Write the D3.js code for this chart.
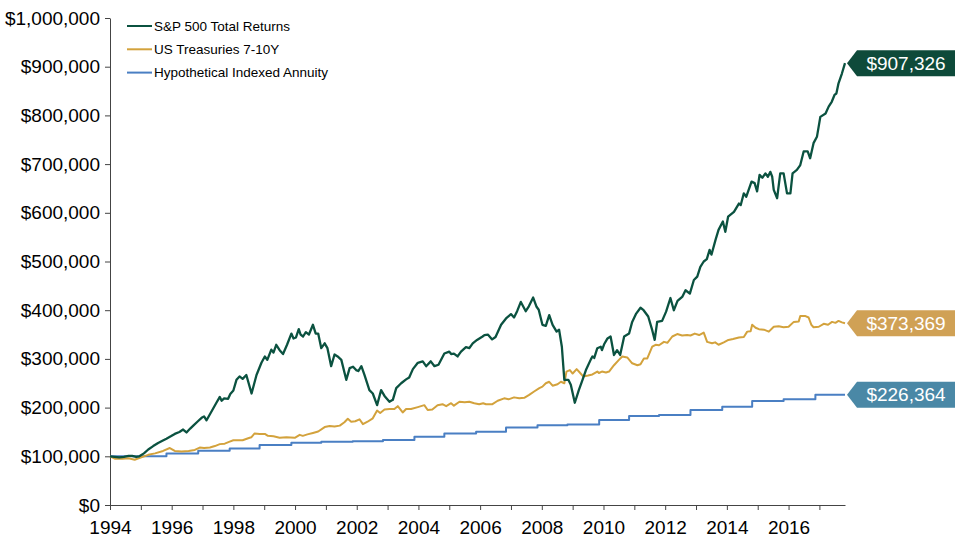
<!DOCTYPE html>
<html>
<head>
<meta charset="utf-8">
<script src="https://cdn.jsdelivr.net/npm/d3@7"></script>
<style>
  body { margin: 0; background: #fff; }
  svg { font-family: "Liberation Sans", Arial, sans-serif; }
</style>
</head>
<body>
<svg id="chart" width="960" height="560"></svg>
<script>
// values in thousands of dollars, [year, value]
var sp500 = [[1994.0,100],[1994.15,99],[1994.3,98],[1994.45,99],[1994.6,101],[1994.72,101],[1994.85,99],[1994.95,100],
  [1995.1,106],[1995.24,114],[1995.4,121],[1995.56,127.5],[1995.7,132],[1995.83,136],[1995.97,141],[1996.1,146],[1996.25,150],
  [1996.37,155],[1996.48,149],[1996.6,157],[1996.7,163],[1996.85,172],[1996.97,179],[1997.05,182],[1997.13,174],[1997.29,192],
  [1997.45,210],[1997.56,222],[1997.62,214],[1997.7,219],[1997.83,218],[1997.9,228],[1998.0,235],[1998.1,257],[1998.2,264],
  [1998.3,259],[1998.42,267],[1998.59,229],[1998.75,267],[1998.91,292],[1999.02,305],[1999.1,298],[1999.23,319],[1999.3,313],
  [1999.39,329],[1999.5,318],[1999.61,310],[1999.74,329],[1999.88,352],[1999.95,342],[2000.03,344],[2000.12,361],[2000.18,350],
  [2000.26,346],[2000.35,355],[2000.45,350],[2000.58,370],[2000.67,352],[2000.75,352],[2000.85,322],[2000.96,332],[2001.05,322],
  [2001.17,285],[2001.28,309],[2001.38,305],[2001.5,298],[2001.66,257],[2001.77,281],[2001.88,284],[2001.98,277],[2002.05,275],
  [2002.15,285],[2002.25,267],[2002.41,236],[2002.52,229],[2002.66,205],[2002.79,236],[2002.9,224],[2003.06,212],[2003.17,216],
  [2003.28,240],[2003.44,250],[2003.6,258],[2003.7,262],[2003.82,279],[2003.98,292],[2004.14,295],[2004.25,285],[2004.4,295],
  [2004.52,285],[2004.65,288],[2004.84,311],[2005.0,315],[2005.06,310],[2005.15,311],[2005.27,305],[2005.38,315],[2005.54,324],
  [2005.65,322],[2005.76,332],[2005.9,339],[2006.08,346],[2006.14,349],[2006.25,350],[2006.39,340],[2006.5,345],[2006.68,370],
  [2006.84,383],[2007.0,392],[2007.1,385],[2007.2,398],[2007.32,417],[2007.48,398],[2007.58,408],[2007.72,426],[2007.83,407],
  [2007.9,401],[2008.02,370],[2008.13,368],[2008.24,390],[2008.35,370],[2008.48,356],[2008.56,360],[2008.65,325],[2008.73,257],
  [2008.86,257],[2008.94,247],[2009.07,210],[2009.2,236],[2009.32,257],[2009.43,277],[2009.59,299],[2009.64,305],[2009.7,302],
  [2009.8,322],[2009.91,325],[2009.95,318],[2010.02,330],[2010.13,342],[2010.23,346],[2010.34,308],[2010.44,318],[2010.54,308],
  [2010.67,346],[2010.83,352],[2010.93,376],[2011.06,393],[2011.2,405],[2011.3,400],[2011.45,387],[2011.58,359],[2011.66,339],
  [2011.74,376],[2011.9,378],[2012.03,397],[2012.17,425],[2012.28,400],[2012.4,419],[2012.56,428],[2012.66,441],[2012.8,434],
  [2012.93,462],[2013.04,469],[2013.14,489],[2013.25,500],[2013.35,505],[2013.44,524],[2013.5,514],[2013.63,544],[2013.73,565],
  [2013.87,582],[2013.95,561],[2014.04,592],[2014.23,602],[2014.39,619],[2014.45,616],[2014.55,640],[2014.63,633],[2014.8,664],
  [2014.9,661],[2014.98,644],[2015.06,678],[2015.15,672],[2015.25,681],[2015.33,674],[2015.41,684],[2015.47,674],[2015.52,647],
  [2015.63,630],[2015.73,681],[2015.84,681],[2015.95,640],[2016.06,640],[2016.13,681],[2016.27,688],[2016.38,698],[2016.49,726],
  [2016.62,726],[2016.7,712],[2016.81,743],[2016.92,756],[2017.03,797],[2017.2,804],[2017.3,818],[2017.4,828],[2017.49,842],
  [2017.55,845],[2017.62,866],[2017.73,886],[2017.83,907.326]];

var treasuries = [[1994.0,100],[1994.17,95],[1994.4,95],[1994.6,96],[1994.8,93],[1994.97,97],[1995.24,103],[1995.46,106],
  [1995.72,111],[1995.94,117],[1996.1,111],[1996.32,110],[1996.55,111],[1996.75,113],[1996.91,118],[1997.05,117],[1997.24,118],
  [1997.4,121],[1997.56,125],[1997.72,126],[1997.88,130],[1998.0,133],[1998.1,133],[1998.3,133],[1998.48,137],[1998.58,139],
  [1998.69,147],[1998.85,146],[1999.02,146],[1999.12,142],[1999.3,141],[1999.5,138],[1999.72,139],[1999.99,138],[2000.15,144],
  [2000.25,142],[2000.4,145],[2000.58,148],[2000.75,151],[2000.96,160],[2001.12,162],[2001.28,161],[2001.45,163],[2001.6,170],
  [2001.71,177],[2001.82,171],[2001.95,172],[2002.09,176],[2002.2,166],[2002.35,171],[2002.52,178],[2002.66,194],[2002.76,189],
  [2002.9,196],[2003.06,197],[2003.22,197],[2003.33,203],[2003.49,190],[2003.6,197],[2003.76,197],[2003.98,201],[2004.19,205],
  [2004.3,195],[2004.45,196],[2004.62,205],[2004.78,207],[2004.9,203],[2005.06,209],[2005.15,204],[2005.33,212],[2005.5,211],
  [2005.65,212],[2005.81,209],[2005.97,207],[2006.1,209],[2006.19,207],[2006.4,207],[2006.57,214],[2006.78,219],[2006.92,217],
  [2007.1,221],[2007.27,219],[2007.43,220],[2007.59,226],[2007.75,233],[2007.92,240],[2008.02,243],[2008.13,250],[2008.24,253],
  [2008.35,245],[2008.51,248],[2008.62,253],[2008.73,250],[2008.8,274],[2008.91,277],[2009.0,270],[2009.13,279],[2009.23,272],
  [2009.34,264],[2009.5,266],[2009.64,268],[2009.8,274],[2009.85,271],[2009.95,274],[2010.08,272],[2010.18,274],[2010.34,287],
  [2010.5,298],[2010.61,305],[2010.77,303],[2010.93,291],[2011.1,287],[2011.2,289],[2011.31,301],[2011.42,301],[2011.58,325],
  [2011.69,329],[2011.8,328],[2011.96,335],[2012.07,333],[2012.23,346],[2012.39,351],[2012.55,348],[2012.71,349],[2012.82,348],
  [2012.96,352],[2013.1,349],[2013.25,354],[2013.36,335],[2013.52,332],[2013.62,334],[2013.73,329],[2013.9,334],[2014.05,339],
  [2014.2,341],[2014.39,344],[2014.55,345],[2014.66,356],[2014.77,357],[2014.82,370],[2014.93,364],[2015.04,361],[2015.2,360],
  [2015.36,356],[2015.52,366],[2015.68,367],[2015.84,365],[2016.0,366],[2016.17,376],[2016.33,377],[2016.38,388],[2016.55,388],
  [2016.65,385],[2016.74,370],[2016.81,365],[2016.98,366],[2017.14,372],[2017.28,370],[2017.41,376],[2017.52,374],[2017.62,378],
  [2017.73,375],[2017.83,373.369]];

// annual crediting steps
var annuity = [[1994.0,100],[1995.83,106],[1996.86,111.5],[1997.88,116],[1998.85,123],[1999.88,128],[2000.85,130],
  [2001.87,131],[2002.85,133.5],[2003.87,140],[2004.84,147],[2005.87,150.5],[2006.84,159],[2007.86,164],[2008.83,165.5],
  [2009.86,174.5],[2010.83,183],[2011.8,185],[2012.82,195],[2013.85,202],[2014.82,213.5],[2015.84,217],[2016.87,226.364],
  [2017.83,226.364]];

var seriesNames = ["S&P 500 Total Returns", "US Treasuries 7-10Y", "Hypothetical Indexed Annuity"];
var lineColors = ["#0b5240", "#d3a23c", "#4a7fc3"];
var calloutColors = ["#0e4a3a", "#d0a155", "#4a88a6"];
var xTicks = d3.range(1994, 2018);
var yTicks = d3.range(0, 1001, 100);

var svg = d3.select("#chart");
var margin = { top: 18, left: 110, bottom: 55, right: 115 };
var width = 960 - margin.left - margin.right;
var height = 560 - margin.top - margin.bottom;

var x = d3.scaleLinear().domain([1994, 2017.83]).range([0, width]);
var y = d3.scaleLinear().domain([0, 1000]).range([height, 0]);

var g = svg.append("g").attr("transform", `translate(${margin.left},${margin.top})`);

var fmt = d3.format("$,.0f");

var yAxis = g.append("g")
  .call(d3.axisLeft(y).tickValues(yTicks).tickSize(5).tickPadding(5).tickSizeOuter(0)
    .tickFormat(function (d) { return fmt(d * 1000); }));

var xAxis = g.append("g")
  .attr("transform", `translate(0,${height})`)
  .call(d3.axisBottom(x).tickValues(xTicks).tickSize(5).tickPadding(11).tickSizeOuter(0)
    .tickFormat(function (d) { return d % 2 === 0 ? d : ""; }));

[yAxis, xAxis].forEach(function (a) {
  a.selectAll("path, line").attr("stroke", "#444");
  a.selectAll("text").attr("fill", "#000").style("font-size", "19px")
    .style("font-family", "'Liberation Sans', Arial, sans-serif");
});

var allSeries = [sp500, treasuries, annuity];

var line = d3.line().x(function (d) { return x(d[0]); }).y(function (d) { return y(d[1]); });
var stepLine = d3.line().curve(d3.curveStepAfter)
  .x(function (d) { return x(d[0]); }).y(function (d) { return y(d[1]); });

[2, 1, 0].forEach(function (i) {
  g.append("path")
    .datum(allSeries[i])
    .attr("fill", "none")
    .attr("stroke", lineColors[i])
    .attr("stroke-width", i === 0 ? 2.3 : 2)
    .attr("stroke-linejoin", "round")
    .attr("d", i === 2 ? stepLine : line);
});

// legend
var legend = g.append("g").attr("transform", "translate(17,8)");
seriesNames.forEach(function (name, i) {
  var row = legend.append("g").attr("transform", `translate(0,${i * 23.3})`);
  row.append("line").attr("x1", 0).attr("x2", 25).attr("y1", 0).attr("y2", 0)
    .attr("stroke", lineColors[i]).attr("stroke-width", 2);
  row.append("text").attr("x", 27).attr("y", 0).attr("dy", "0.35em")
    .style("font-size", "13.5px").attr("fill", "#000").text(name);
});

// end value callouts
allSeries.forEach(function (s, i) {
  var last = s[s.length - 1];
  var cx = x(last[0]) + 2;
  var cy = y(last[1]);
  var h = 13, notch = 10, w = 108;
  var callout = g.append("g").attr("transform", `translate(${cx},${cy})`);
  callout.append("path")
    .attr("d", `M0,0 L${notch},${-h} L${w},${-h} L${w},${h} L${notch},${h} Z`)
    .attr("fill", calloutColors[i]);
  callout.append("text")
    .attr("x", notch + (w - notch) / 2).attr("y", 0).attr("dy", "0.35em")
    .attr("text-anchor", "middle").attr("fill", "#fff")
    .style("font-size", "19px").text(fmt(last[1] * 1000));
});
</script>
</body>
</html>
